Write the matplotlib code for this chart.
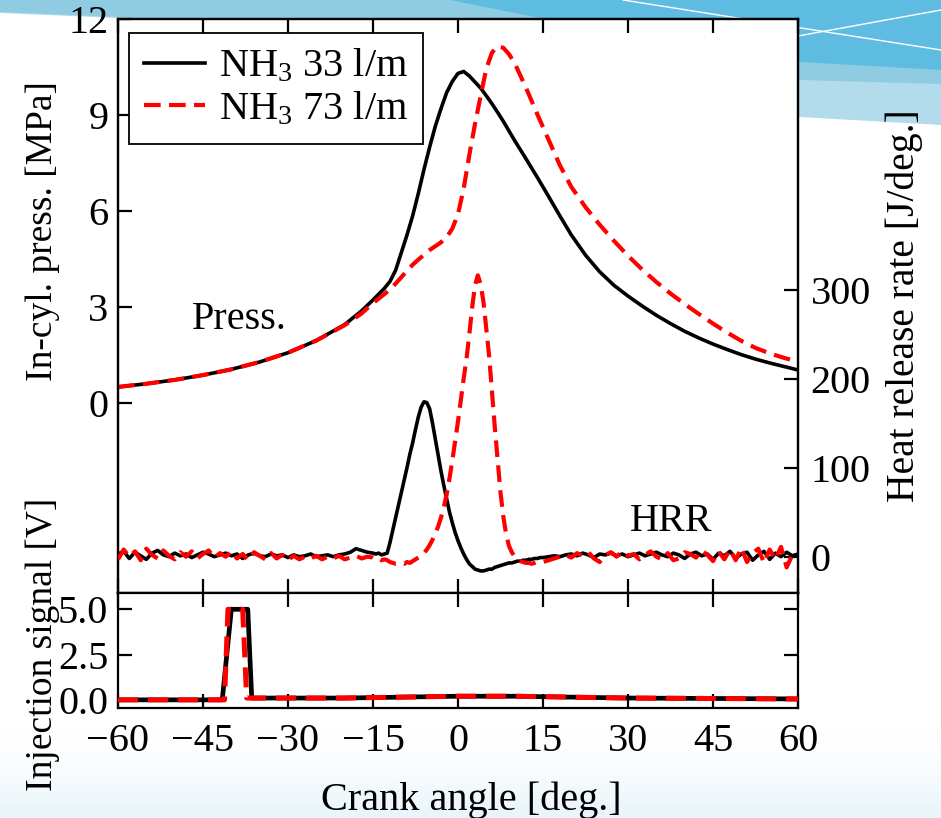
import matplotlib
matplotlib.use("Agg")
import matplotlib.pyplot as plt
import numpy as np
from matplotlib.patches import Polygon
from matplotlib.lines import Line2D

plt.rcParams['font.family'] = ['Liberation Serif', 'DejaVu Serif']
plt.rcParams['mathtext.fontset'] = 'custom'
plt.rcParams['mathtext.rm'] = 'Liberation Serif'
plt.rcParams['mathtext.it'] = 'Liberation Serif:italic'
plt.rcParams['font.size'] = 29

# crank angle grid of the pressure traces
p_deg = [-60, -55, -50, -45, -40, -35, -30, -25, -20, -17, -15,
         -13, -12, -11, -10, -9, -8, -7, -6, -5, -4, -3, -2, -1, 0,
         1, 2, 3, 4, 5, 6, 7, 8, 9, 10, 12, 14, 16, 18, 20,
         22.5, 25, 27.5, 30, 32.5, 35, 37.5, 40, 42.5, 45, 47.5, 50, 52.5, 55, 57.5, 60]
# in-cylinder pressure [MPa]
p_33 = [0.50, 0.60, 0.72, 0.87, 1.05, 1.28, 1.57, 1.95, 2.45, 2.88, 3.22,
        3.58, 3.80, 4.15, 4.70, 5.25, 5.85, 6.55, 7.30, 8.00, 8.65, 9.20, 9.70, 10.05, 10.30,
        10.36, 10.22, 10.03, 9.84, 9.60, 9.35, 9.08, 8.80, 8.50, 8.20, 7.63, 7.05, 6.45, 5.84, 5.25,
        4.62, 4.10, 3.68, 3.34, 3.03, 2.74, 2.48, 2.24, 2.03, 1.84, 1.67, 1.51, 1.37, 1.25, 1.14, 1.03]
p_73 = [0.50, 0.60, 0.72, 0.87, 1.05, 1.28, 1.57, 1.95, 2.43, 2.80, 3.12,
        3.40, 3.55, 3.73, 3.93, 4.13, 4.32, 4.48, 4.63, 4.78, 4.90, 5.02, 5.18, 5.45, 5.90,
        6.70, 7.75, 8.72, 9.60, 10.45, 10.95, 11.15, 11.10, 10.90, 10.62, 9.85, 9.02, 8.22, 7.42, 6.75,
        6.12, 5.57, 5.07, 4.60, 4.17, 3.78, 3.42, 3.09, 2.78, 2.48, 2.20, 1.94, 1.72, 1.55, 1.41, 1.29]

# crank angle grid of the heat release traces (finer around TDC)
hrr_deg = list(range(-60, -15)) + [-15 + 0.5 * i for i in range(60)] + list(range(15, 61))
# heat release rate [J/deg.]
hrr_33 = [3, 6, -2, 5, 1, -3, 4, 7, 2, 0,
          4, 1, 3, -1, 2, 5, 3, 0, 2, 4,
          1, 3, -2, 2, 4, 1, 0, 3, 1, 2,
          -1, 2, 0, 1, 3, 0, 1, 2, 0, 2,
          3, 5, 9, 7, 5,
          4, 3, 4, 2, 3, 4, 16, 30, 44, 58,
          72, 86, 100, 115, 128, 143, 157, 168, 174, 173,
          166, 150, 132, 114, 96, 80, 65, 50, 38, 27,
          18, 10, 3, -3, -8, -11, -14, -15, -16, -16,
          -15, -14, -14, -12, -11, -10, -9, -8, -7, -7,
          -6, -5, -5, -4, -4, -3, -3, -2, -2, -1,
          -1, 0, 1, 0, 2, 3, 1, 4, 2, -1,
          3, 2, 4, 1, 3, 0, 2, 4, 1, 3,
          5, 2, 0, 4, 2, -2, 3, 5, 1, 3,
          -3, 4, 1, 6, -2, 3, 5, -4, 2, 6,
          -3, 4, 0, 5, 1, 3]
hrr_73 = [-3, 8, 0, 6, -4, 9, 2, -2, 7, 1,
          -3, 5, 0, 6, -2, 3, 7, -1, 4, 0,
          6, -2, 3, -4, 5, 1, -3, 4, -2, 2,
          -4, 1, -3, 0, -2, 1, -3, 0, -2, 1,
          -3, -1, 1, -2, 0,
          -1, -3, -2, -4, -3, -4, -6, -7, -8, -8,
          -7, -8, -6, -7, -5, -3, -1, 1, 4, 8,
          13, 19, 26, 34, 44, 56, 70, 88, 108, 130,
          152, 176, 200, 222, 250, 280, 305, 316, 306, 286,
          255, 225, 185, 145, 108, 72, 45, 25, 12, 5,
          0, -3, -5, -6, -7, -7, -8, -7, -6, -6,
          -6, -4, -2, 0, 2, -1, 4, 1, 5, -2,
          -6, 2, 5, 0, 6, 1, 3, -3, 2, 6,
          0, -3, 4, -4, -2, 5, 3, -1, 7, 2,
          -5, 6, -3, 8, -4, 10, -6, 4, 9, -7,
          8, -3, 11, -12, 2, 5]

# injection signal [V]
inj_33_deg = [-60, -41.6, -40.0, -37.1, -36.4, -20, 0, 10, 30, 60]
inj_33 = [0.0, 0.0, 5.0, 5.0, 0.1, 0.1, 0.2, 0.2, 0.1, 0.05]
inj_73_deg = [-60, -41.2, -40.6, -38.0, -37.3, -20, 0, 10, 30, 60]
inj_73 = [0.0, 0.0, 5.0, 5.0, 0.1, 0.1, 0.2, 0.2, 0.1, 0.05]

labels = [r'NH$_3$ 33 l/m', r'NH$_3$ 73 l/m']
x_ticks = [-60, -45, -30, -15, 0, 15, 30, 45, 60]

W, H = 941, 818
fig = plt.figure(figsize=(W / 100, H / 100), dpi=100)

# slide background
bg = fig.add_axes([0, 0, 1, 1], zorder=-10)
bg.set_xlim(0, W)
bg.set_ylim(H, 0)
bg.axis('off')
grad = np.linspace(0, 1, 100).reshape(-1, 1) ** 1.5
bg.imshow(np.dstack([1 - 0.09 * grad, 1 - 0.04 * grad, 1 - 0.02 * grad, np.ones_like(grad)]),
          extent=[0, W, H, 730], aspect='auto')
bg.add_patch(Polygon([(0, 0), (W, 0), (W, 125), (800, 117), (600, 105), (300, 30), (118, 18), (0, 13)],
                     closed=True, color='#b2dbeb', lw=0))
bg.add_patch(Polygon([(0, 0), (W, 0), (W, 84), (800, 80), (118, 17), (0, 12)],
                     closed=True, color='#8fcce2', lw=0))
bg.add_patch(Polygon([(450, 0), (W, 0), (W, 70), (800, 62), (560, 22)],
                     closed=True, color='#5ebce0', lw=0))
bg.plot([623, W], [0, 50], color='white', lw=1)
bg.plot([798, W], [36, 10], color='white', lw=1)

ax_p = fig.add_axes([118 / W, 1 - 593 / H, 680 / W, 574 / H])
ax_h = ax_p.twinx()
ax_i = fig.add_axes([118 / W, 1 - 708 / H, 680 / W, 115 / H])

for a in (ax_p, ax_h, ax_i):
    for s in a.spines.values():
        s.set_linewidth(1.6)

dash = (0, (4, 2))

# pressure
ax_p.plot(p_deg, p_33, color='black', lw=2.6, zorder=3)
ax_p.plot(p_deg, p_73, color='red', lw=3.0, ls=dash, zorder=4)
ax_p.set_xlim(-60, 60)
ax_p.set_ylim(-5.94, 12)
ax_p.set_yticks([0, 3, 6, 9, 12])
ax_p.set_xticks(x_ticks)
ax_p.tick_params(axis='x', direction='in', length=10, width=1.6, top=True, labelbottom=False)
ax_p.tick_params(axis='y', direction='in', length=10, width=1.6, pad=7)
ax_p.set_ylabel('In-cyl. press. [MPa]', fontsize=27)
ax_p.yaxis.set_label_coords(-0.085, 0.63)
ax_p.text(-47, 2.6, 'Press.', ha='left', va='center')

# heat release rate
ax_h.plot(hrr_deg, hrr_33, color='black', lw=2.6, zorder=3)
ax_h.plot(hrr_deg, hrr_73, color='red', lw=3.0, ls=dash, zorder=4)
ax_h.set_ylim(-40.8, 604)
ax_h.set_yticks([0, 100, 200, 300])
ax_h.tick_params(axis='y', direction='in', length=10, width=1.6, pad=9)
ax_h.set_ylabel('Heat release rate [J/deg.]', fontsize=28.5)
ax_h.yaxis.set_label_coords(1.128, 0.5)
ax_h.text(30.3, 39, 'HRR', ha='left', va='center')

handles = [Line2D([], [], color='black', lw=2.6),
           Line2D([], [], color='red', lw=3.0, ls=dash)]
leg = ax_h.legend(handles, labels, loc='upper left', bbox_to_anchor=(0.016, 0.976),
                  borderaxespad=0, fancybox=False, framealpha=1, edgecolor='black',
                  handlelength=1.5, handletextpad=0.35, borderpad=0.38, labelspacing=0.12,
                  fontsize=29)
leg.get_frame().set_linewidth(1.3)

# injection signal
ax_i.plot(inj_33_deg, inj_33, color='black', lw=3.4, zorder=3)
ax_i.plot(inj_73_deg, inj_73, color='red', lw=3.6, ls=(0, (4, 2)), zorder=4)
ax_i.set_xlim(-60, 60)
ax_i.set_ylim(-0.45, 5.9)
ax_i.set_yticks([0, 2.5, 5.0])
ax_i.set_yticklabels(['0.0', '2.5', '5.0'])
ax_i.set_xticks(x_ticks)
ax_i.tick_params(direction='in', length=10, width=1.6, top=True, right=True)
ax_i.tick_params(axis='x', pad=11)
ax_i.tick_params(axis='y', pad=7)
ax_i.set_xlabel('Crank angle [deg.]')
ax_i.xaxis.set_label_coords(0.52, -0.64)
ax_i.set_ylabel('Injection signal [V]', fontsize=27)
ax_i.yaxis.set_label_coords(-0.085, 0.55)

fig.savefig('out.png', dpi=100)
